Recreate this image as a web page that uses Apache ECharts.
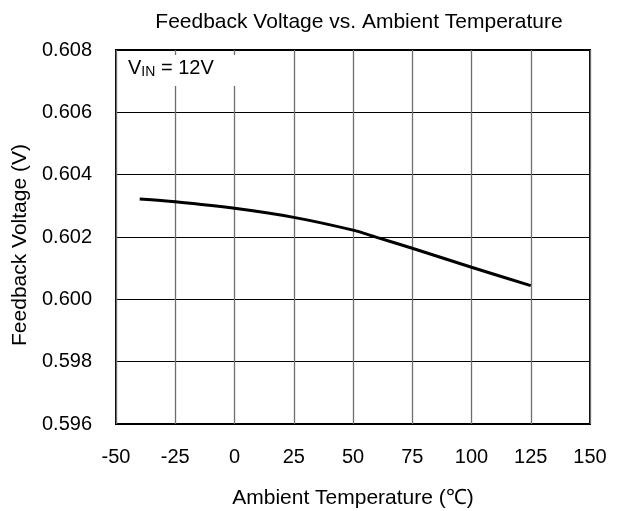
<!DOCTYPE html>
<html><head><meta charset="utf-8">
<script src="https://cdn.jsdelivr.net/npm/echarts@6/dist/echarts.min.js"></script>
<style>html,body{margin:0;padding:0;background:#fff}#c{width:618px;height:511px}</style>
</head><body><div id="c"></div>
<script>
const temps = [-40, -25, 0, 25, 50, 60, 75, 100, 125];
const vfb = [0.60322, 0.60313, 0.60292, 0.60263, 0.60222, 0.60199, 0.60164, 0.60103, 0.60044];
const xTicks = [-50, -25, 0, 25, 50, 75, 100, 125, 150];
const yTicks = [0.596, 0.598, 0.600, 0.602, 0.604, 0.606, 0.608];

const font = '"Liberation Sans", Arial, sans-serif';
const chart = echarts.init(document.getElementById('c'));
chart.setOption({
  animation: false,
  backgroundColor: '#fff',
  title: {
    text: 'Feedback Voltage vs. Ambient Temperature',
    left: 354, top: 7, textAlign: 'center',
    textStyle: {fontFamily: font, fontSize: 21, fontWeight: 'normal', color: '#000'}
  },
  grid: {left: 116, right: 28, top: 50, bottom: 87, show: true, borderColor: '#000', borderWidth: 2,
    outerBoundsMode: 'none', containLabel: false},
  xAxis: {
    type: 'value', min: -50, max: 150, interval: 25,
    name: 'Ambient Temperature (\u2103)', nameLocation: 'middle', nameGap: 64,
    nameTextStyle: {fontFamily: font, fontSize: 21, color: '#000'},
    axisLine: {show: false}, axisTick: {show: false},
    axisLabel: {fontFamily: font, fontSize: 20, color: '#000', margin: 23,
      formatter: v => xTicks.includes(v) ? String(v) : ''},
    splitLine: {show: true, lineStyle: {color: '#6e6e6e', width: 1.3}}
  },
  yAxis: {
    type: 'value', min: 0.596, max: 0.608, interval: 0.002,
    name: 'Feedback Voltage (V)', nameLocation: 'middle', nameGap: 82,
    nameTextStyle: {fontFamily: font, fontSize: 21, color: '#000', padding: [0, 16, 0, 0]},
    axisLine: {show: false}, axisTick: {show: false},
    axisLabel: {fontFamily: font, fontSize: 20, color: '#000', margin: 24,
      formatter: v => yTicks.some(t => Math.abs(t - v) < 1e-9) ? v.toFixed(3) : ''},
    splitLine: {show: true, lineStyle: {color: '#000', width: 1}}
  },
  graphic: [{
    type: 'rect', left: 118, top: 55, shape: {width: 140, height: 31},
    style: {fill: '#fff'}, z: 100
  }, {
    type: 'text', left: 128, top: 58, z: 101,
    style: {
      text: '{a|V}{s|IN}{a| = 12V}',
      rich: {
        a: {fontFamily: font, fontSize: 20, fill: '#000'},
        s: {fontFamily: font, fontSize: 14, fill: '#000', padding: [9, 0, 0, 0]}
      }
    }
  }],
  series: [{
    type: 'line', smooth: 0.3, symbol: 'none',
    data: temps.map((t, i) => [t, vfb[i]]),
    lineStyle: {color: '#000', width: 3}
  }]
});
</script></body></html>
